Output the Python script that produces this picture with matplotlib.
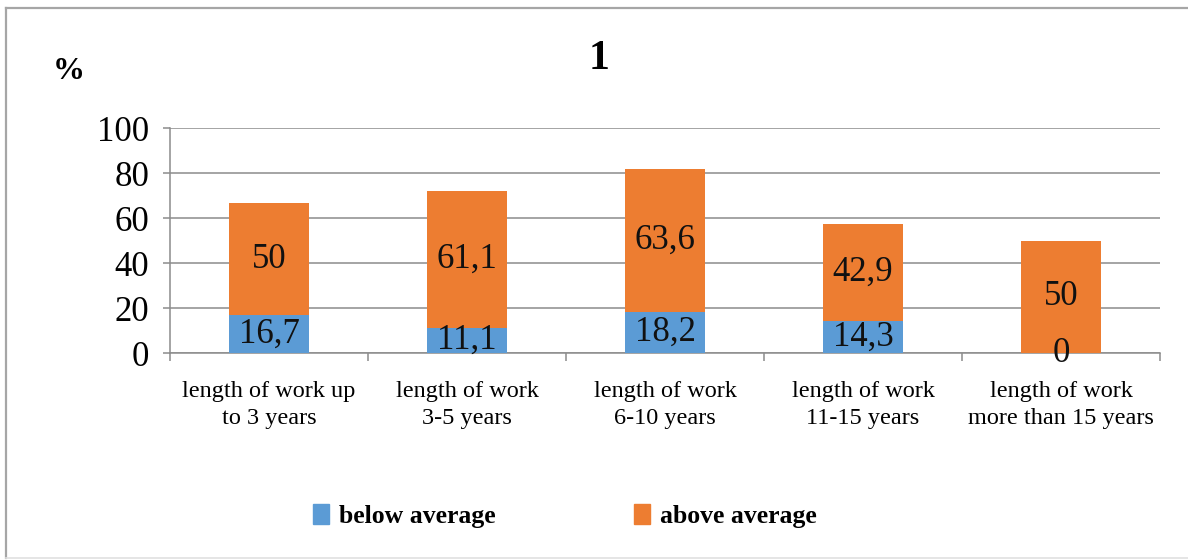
import numpy as np
import matplotlib
matplotlib.use('Agg')
import matplotlib.pyplot as plt
from matplotlib.lines import Line2D
from matplotlib.patches import Patch

plt.rcParams['font.family'] = ['Liberation Serif', 'DejaVu Serif']

# work experience groups and shares (%)
categories = ['length of work up\nto 3 years', 'length of work\n3-5 years',
              'length of work\n6-10 years', 'length of work\n11-15 years',
              'length of work\nmore than 15 years']
below_avg = [16.7, 11.1, 18.2, 14.3, 0]
above_avg = [50, 61.1, 63.6, 42.9, 50]
series_names = ['below average', 'above average']
y_ticks = [0, 20, 40, 60, 80, 100]

blue = '#5b9bd5'
orange = '#ed7d31'
grid_col = '#8c8c8c'


def fmt(v):
    # decimal comma, drop trailing .0
    s = ('%g' % v)
    return s.replace('.', ',')


fig = plt.figure(figsize=(11.88, 5.6), dpi=100)

# outer chart frame (left, top, bottom edges)
frame_kw = dict(transform=fig.transFigure, color='#a6a6a6', lw=1.6)
fig.lines.append(Line2D([0.005, 0.005], [0.004, 0.9857], **frame_kw))
fig.lines.append(Line2D([0.005, 1.0], [0.9857, 0.9857], **frame_kw))
fig.lines.append(Line2D([0.005, 1.0], [0.004, 0.004], color='#e0e0e0', lw=1.2,
                        transform=fig.transFigure))

ax = fig.add_axes([0.1431, 0.3696, 0.8333, 0.4018])
x = np.arange(len(categories))
width = 0.4

ax.bar(x, below_avg, width, color=blue, zorder=3)
ax.bar(x, above_avg, width, bottom=below_avg, color=orange, zorder=3)

for i in range(len(categories)):
    ax.text(x[i], below_avg[i] / 2, fmt(below_avg[i]), ha='center', va='center',
            fontsize=25, color='#111111', zorder=4)
    ax.text(x[i], below_avg[i] + above_avg[i] / 2, fmt(above_avg[i]), ha='center',
            va='center', fontsize=25, color='#111111', zorder=4)

ax.set_xlim(-0.5, len(categories) - 0.5)
ax.set_ylim(0, 100)
ax.set_yticks(y_ticks)
ax.yaxis.grid(True, color=grid_col, lw=1.1)
ax.set_axisbelow(True)
ax.tick_params(axis='y', labelsize=25, length=5, width=1.1, color=grid_col, pad=10)

# category ticks sit on the group boundaries, labels at the centres
ax.set_xticks(np.arange(len(categories) + 1) - 0.5)
ax.set_xticklabels([])
ax.set_xticks(x, minor=True)
ax.set_xticklabels(categories, minor=True, fontsize=17.5, linespacing=1.4)
ax.tick_params(axis='x', which='major', length=6, width=1.1, color=grid_col)
ax.tick_params(axis='x', which='minor', length=0, pad=20)

for side in ['top', 'right']:
    ax.spines[side].set_visible(False)
for side in ['left', 'bottom']:
    ax.spines[side].set_color(grid_col)
    ax.spines[side].set_linewidth(1.1)

fig.text(0.504, 0.894, '1', ha='center', va='center', fontsize=30, fontweight='bold')
fig.text(0.058, 0.872, '%', ha='center', va='center', fontsize=23, fontweight='bold')

handles = [Patch(color=blue), Patch(color=orange)]
fig.legend(handles, series_names, loc='center', bbox_to_anchor=(0.4756, 0.079), ncol=2,
           frameon=False, prop={'size': 18.5, 'weight': 'bold'}, handlelength=0.6,
           handleheight=0.8, handletextpad=0.4, columnspacing=5.4)

fig.savefig('out.png', dpi=100)
